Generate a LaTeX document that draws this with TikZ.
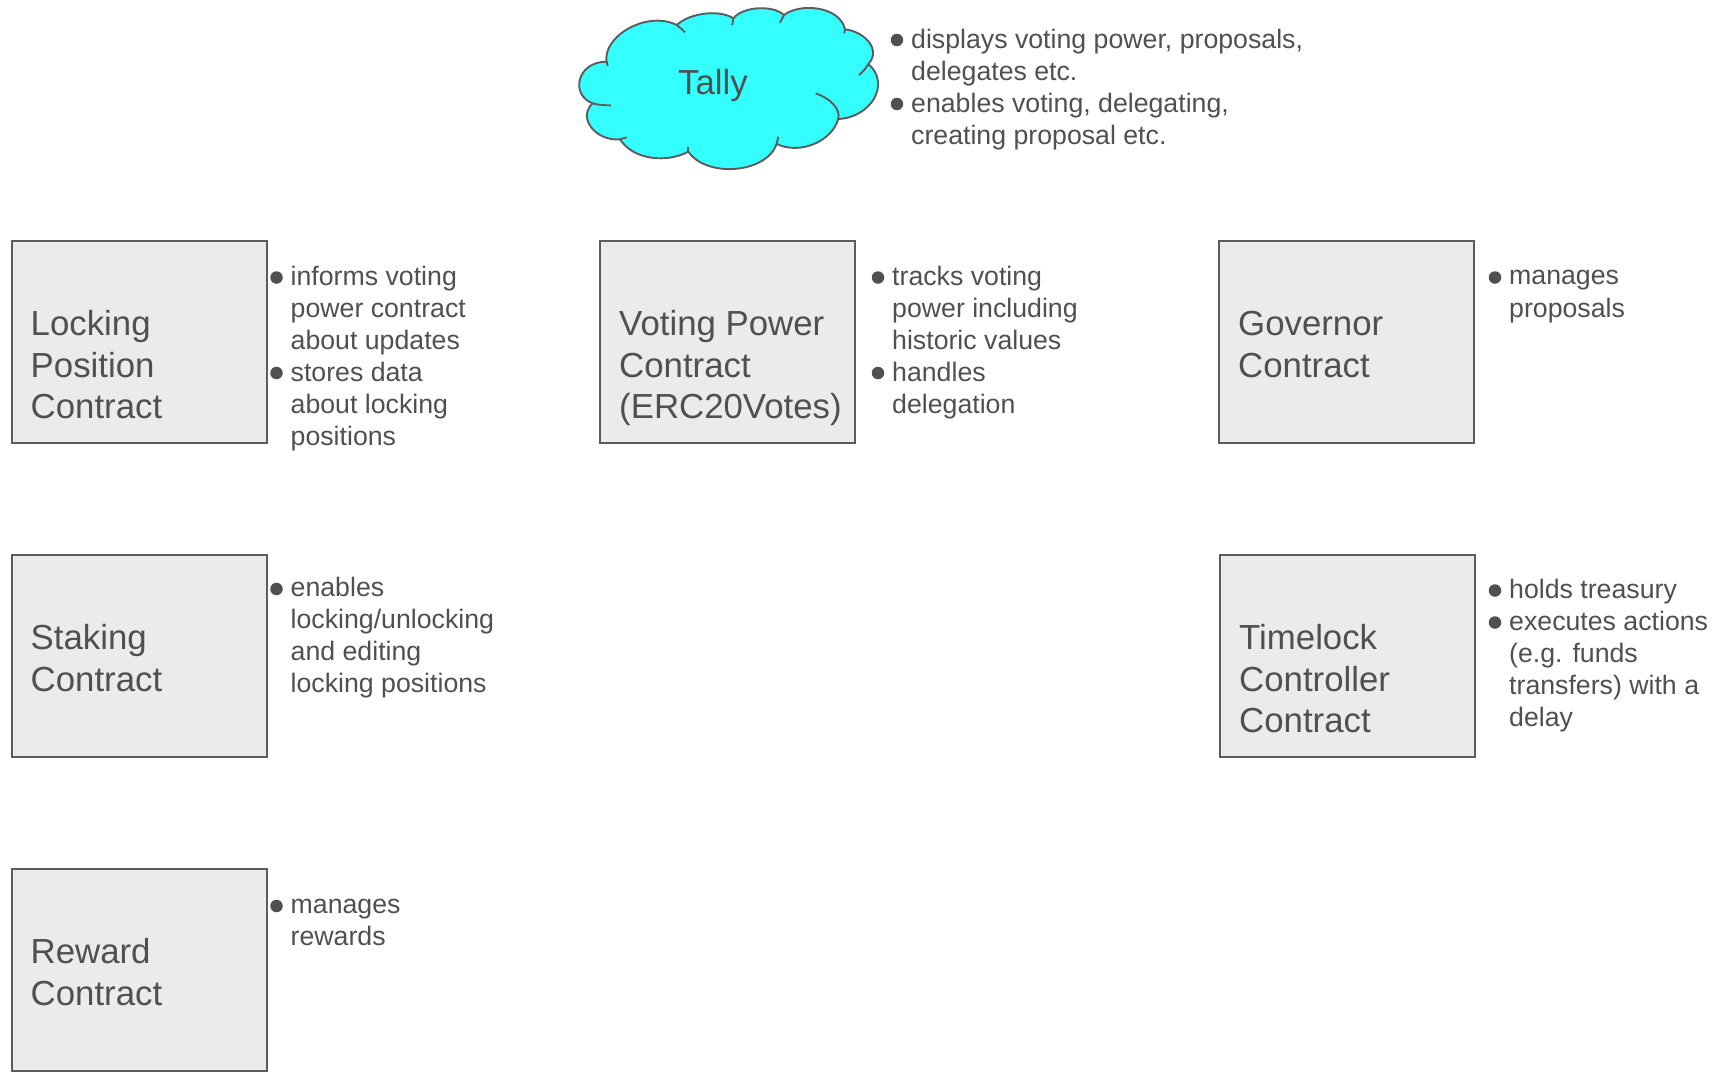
\documentclass[tikz,border=0pt]{standalone}
\usepackage{fontspec}
\setmainfont{Liberation Sans}
\definecolor{ink}{HTML}{505050}
\definecolor{edge}{HTML}{5C5C5C}
\definecolor{boxfill}{HTML}{EBEBEB}
\definecolor{cloudfill}{HTML}{33FFFF}
\tikzset{
  contract/.style={draw=edge,fill=boxfill,line width=2.1pt,minimum width=255pt,minimum height=202pt,inner sep=0pt,anchor=north west},
  title/.style={anchor=base west,inner sep=0pt,text=ink,align=left,font=\fontsize{34.8}{41.6}\selectfont},
  note/.style={anchor=base west,inner sep=0pt,text=ink,align=left,font=\fontsize{26.7}{32.1}\selectfont},
  dot/.style={circle,fill=ink,draw=none,inner sep=0pt,minimum size=12.5pt},
  cloudline/.style={draw=edge,line width=1.9pt},
}
\begin{document}
\begin{tikzpicture}[x=1pt,y=-1pt]
\useasboundingbox (0,0) rectangle (1721,1077);
\fill[white] (0,0) rectangle (1721,1077);
% cloud
\begin{scope}[shift={(560,0)},x=0.3333pt,y=-0.3333pt]
\path[cloudline,fill=cloudfill,line join=round]
 (140,188) .. controls (125,110) and (260,30) .. (350,75)
 .. controls (390,38) and (480,28) .. (520,55)
 .. controls (550,18) and (640,15) .. (672,45)
 .. controls (720,8) and (840,18) .. (855,88)
 .. controls (915,95) and (965,150) .. (925,192)
 .. controls (993,250) and (935,352) .. (835,357)
 .. controls (815,425) and (720,465) .. (650,432)
 .. controls (620,520) and (440,535) .. (385,455)
 .. controls (320,490) and (220,480) .. (180,418)
 .. controls (110,425) and (50,355) .. (98,310)
 .. controls (30,285) and (50,185) .. (140,185) -- cycle;
\draw[cloudline] (350,75) .. controls (358,80) and (368,90) .. (375,97);
\draw[cloudline] (520,55) -- (517,75);
\draw[cloudline] (672,45) -- (660,68);
\draw[cloudline] (855,88) -- (853,100);
\draw[cloudline] (925,192) .. controls (918,205) and (908,217) .. (897,225);
\draw[cloudline] (835,357) .. controls (842,325) and (810,295) .. (767,280);
\draw[cloudline] (650,432) -- (655,410);
\draw[cloudline] (385,455) -- (385,440);
\draw[cloudline] (180,418) -- (200,412);
\draw[cloudline] (98,310) .. controls (115,315) and (135,316) .. (153,316);
\draw[cloudline] (140,185) -- (143,198);
\end{scope}
\node[title] (tally) at (678,94) {Tally};
\node[dot] (d1) at (897,40) {};
\node[note] (t1) at (911,80.2) {displays voting power, proposals,\\delegates etc.};
\node[dot] (d2) at (897,104) {};
\node[note] (t2) at (911,144.2) {enables voting, delegating,\\creating proposal etc.};
% boxes
\node[contract] (lock) at (10.5,239.5) {};
\node[contract] (vote) at (599,239.5) {};
\node[contract] (gov) at (1218,239.5) {};
\node[contract] (stake) at (10.5,553.5) {};
\node[contract] (time) at (1219,553.5) {};
\node[contract] (reward) at (10.5,867.5) {};
% titles
\node[title] (lockt) at (30.5,418.6) {Locking\\Position\\Contract};
\node[title] (votet) at (619,418.6) {Voting Power\\Contract\\(ERC20Votes)};
\node[title] (govt) at (1238,377) {Governor\\Contract};
\node[title] (staket) at (30.5,691) {Staking\\Contract};
\node[title] (timet) at (1239,732.6) {Timelock\\Controller\\Contract};
\node[title] (rewardt) at (30.5,1005) {Reward\\Contract};
% notes
\node[dot] (d3) at (276.5,277.5) {};
\node[note] (n3) at (290.5,349.2) {informs voting\\power contract\\about updates};
\node[dot] (d4) at (276.5,373) {};
\node[note] (n4) at (290.5,445.2) {stores data\\about locking\\positions};
\node[dot] (d5) at (878,277.5) {};
\node[note] (n5) at (892,349.2) {tracks voting\\power including\\historic values};
\node[dot] (d6) at (878,373) {};
\node[note] (n6) at (892,413.2) {handles\\delegation};
\node[dot] (d7) at (1495,277.5) {};
\node[note] (n7) at (1509,317) {manages\\proposals};
\node[dot] (d8) at (276.5,589) {};
\node[note] (n8) at (290.5,692.5) {enables\\locking/unlocking\\and editing\\locking positions};
\node[dot] (d9) at (1495,590.5) {};
\node[note] (n9) at (1509,598) {holds treasury};
\node[dot] (d10) at (1495,622.5) {};
\node[note] (n10) at (1509,726.5) {executes actions\\(e.g. funds\\transfers) with a\\delay};
\node[dot] (d11) at (276.5,906) {};
\node[note] (n11) at (290.5,945.5) {manages\\rewards};
\end{tikzpicture}
\end{document}
